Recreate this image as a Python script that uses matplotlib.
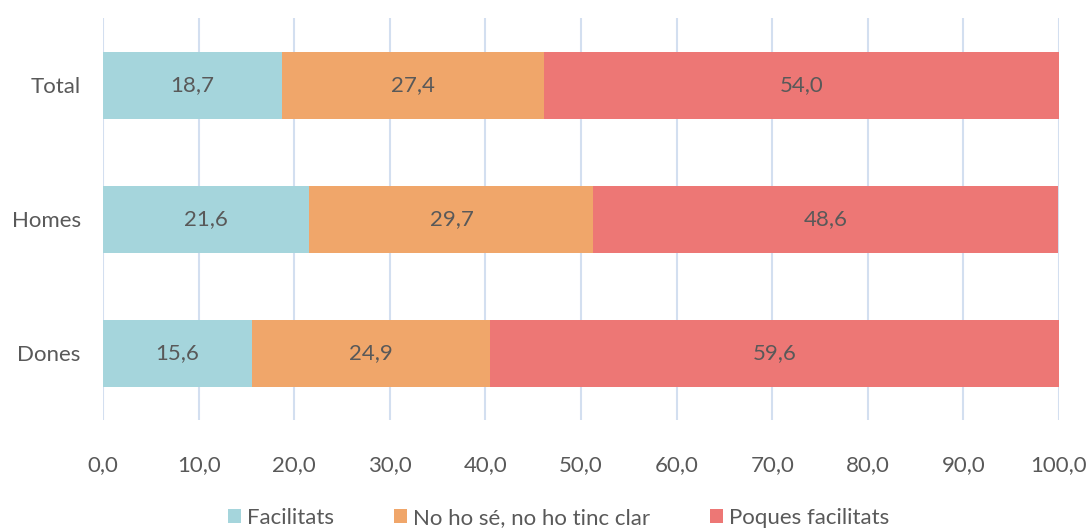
import numpy as np
import matplotlib.pyplot as plt

plt.rcParams['font.family'] = ['Lato', 'DejaVu Sans']

# dades
categories = ['Dones', 'Homes', 'Total']
facilitats = [15.6, 21.6, 18.7]
no_ho_se = [24.9, 29.7, 27.4]
poques = [59.6, 48.6, 54.0]
series_labels = ['Facilitats', 'No ho sé, no ho tinc clar', 'Poques facilitats']
colors = ['#A5D5DC', '#F0A66A', '#ED7775']
txt = '#595959'

fig = plt.figure(figsize=(10.89, 5.32), dpi=100)
ax = fig.add_axes([103/1089, 112/532, 956/1089, 402/532])

y = np.arange(len(categories))
left = np.zeros(len(categories))
for vals, lab, col in zip([facilitats, no_ho_se, poques], series_labels, colors):
    bars = ax.barh(y, vals, left=left, height=0.5, color=col, label=lab, zorder=2)
    for b, v in zip(bars, vals):
        ax.text(b.get_x() + b.get_width()/2, b.get_y() + b.get_height()/2,
                f'{v:.1f}'.replace('.', ','), ha='center', va='center',
                fontsize=16, color=txt, zorder=3)
    left += np.array(vals)

ax.set_xlim(0, 100)
ax.set_ylim(-0.5, 2.5)
ax.set_xticks(np.arange(0, 101, 10))
ax.set_xticklabels([f'{v:.1f}'.replace('.', ',') for v in np.arange(0, 101, 10)])
ax.set_yticks(y)
ax.set_yticklabels(categories)
ax.tick_params(axis='x', length=0, pad=25, labelsize=16, labelcolor=txt)
ax.tick_params(axis='y', length=0, pad=16, labelsize=16, labelcolor=txt)
ax.grid(axis='x', color='#D3DFF0', linewidth=1.5, zorder=0)
for s in ax.spines.values():
    s.set_visible(False)

fig.legend(loc='lower center', ncol=3, frameon=False, fontsize=16,
           bbox_to_anchor=(0.513, -0.03), handlelength=0.6, handleheight=0.6,
           handletextpad=0.25, columnspacing=2.7, labelcolor=txt)

fig.savefig('out.png', dpi=100)
